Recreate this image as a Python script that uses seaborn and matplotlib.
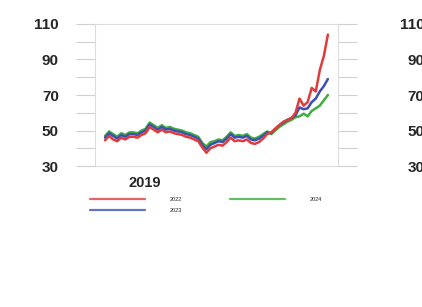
import numpy as np
import pandas as pd
import matplotlib
matplotlib.use("Agg")
import matplotlib.pyplot as plt
import seaborn as sns

# three price series (same time axis)
series_names = ["2022", "2023", "2024"]
vals_2024 = [47, 49.5, 48, 46.5, 48.5, 47.5, 49, 49, 48.5, 50,
             51, 54.5, 53, 51.5, 53, 51.5, 52, 51, 50.5, 50,
             49, 48.5, 47.5, 46.5, 43, 41, 43.5, 44, 45, 44.5,
             46.5, 49, 47, 47.5, 47, 48, 46, 45.5, 46.5, 48,
             49.5, 48, 50, 52, 53.5, 55, 56, 57.5, 58, 59.5,
             58, 61, 62.5, 64, 67, 70]
vals_2022 = [44.5, 47, 45, 44, 46, 45, 46.5, 46.5, 46, 47.5,
             48.5, 52, 50.5, 49, 50.5, 49, 49.5, 48.5, 48, 47.5,
             46.5, 46, 45, 44, 40.5, 37.5, 40, 41, 42, 41.5,
             43.5, 46, 44, 44.5, 44, 45, 43, 42.5, 43.5, 45.5,
             48, 49, 51, 53, 55, 56, 57, 60, 68, 64,
             66, 74, 72, 84, 92, 104]
vals_2023 = [46, 48.5, 47, 45.5, 47.5, 46.5, 48, 48, 47.5, 49,
             50, 53.5, 52, 50.5, 52, 50.5, 51, 50, 49.5, 49,
             48, 47.5, 46.5, 45.5, 42, 39.5, 42, 43, 44, 43.5,
             45.5, 48, 46, 46.5, 46, 47, 45, 44.5, 45.5, 47,
             49, 48.5, 51, 53, 54.5, 56, 57, 58.5, 63, 62,
             62.5, 66, 68, 72, 75, 79]
palette = {"2022": "#e23b3b", "2023": "#3c4fb2", "2024": "#3fae3f"}

n = len(vals_2024)
df = pd.DataFrame({
    "t": list(range(n)) * 3,
    "value": vals_2022 + vals_2023 + vals_2024,
    "series": ["2022"] * n + ["2023"] * n + ["2024"] * n,
})

sns.set_style("white")
plt.rcParams["font.family"] = ["Liberation Sans", "DejaVu Sans"]

fig = plt.figure(figsize=(4.22, 3.07), dpi=100)
ax = fig.add_axes([0.225, 0.459, 0.576, 0.463])
sns.lineplot(data=df, x="t", y="value", hue="series", hue_order=["2024", "2023", "2022"],
             palette=palette, linewidth=1.8, ax=ax, legend=False)

ax.set_xlim(-2.5, n + 1.5)
ax.set_ylim(30, 110)
ax.set_yticks([30, 50, 70, 90, 110])
ax.set_yticks([40, 60, 80, 100], minor=True)
ax.tick_params(axis="y", which="both", length=14, width=0.8, color="#d0d0d0",
               direction="out", left=True, right=True, pad=12)
ax.tick_params(axis="y", which="major", labelsize=11)
for lab in ax.get_yticklabels():
    lab.set_fontweight("bold")
ax.set_xticks([20.5, 40.5])
ax.set_xticklabels(["", ""])
ax.tick_params(axis="x", length=3, direction="in", color="#cfcfcf")
ax.set_xlabel("")
ax.set_ylabel("")
for sp in ax.spines.values():
    sp.set_color("#dcdcdc")
    sp.set_linewidth(0.8)
ax.text(0.206, -0.12, "2019", transform=ax.transAxes, ha="center", va="center",
        fontsize=10.5, fontweight="bold")

# second panel, mostly off the right edge
ax2 = fig.add_axes([1.045, 0.459, 0.5, 0.463])
ax2.set_ylim(30, 110)
ax2.set_yticks([30, 50, 70, 90, 110])
ax2.tick_params(axis="y", length=0, pad=12, labelsize=11)
for lab in ax2.get_yticklabels():
    lab.set_fontweight("bold")

handles = [plt.Line2D([], [], color=c, lw=1.6, alpha=0.8)
           for c in [palette[s] for s in series_names]]
fig.legend(handles, series_names, loc="upper left", bbox_to_anchor=(0.213, 0.358),
           ncol=2, frameon=False, fontsize=4, handlelength=9.9, handletextpad=4.5,
           columnspacing=8.6, labelspacing=1.0, borderpad=0, borderaxespad=0)

fig.savefig("out.png", dpi=100)
